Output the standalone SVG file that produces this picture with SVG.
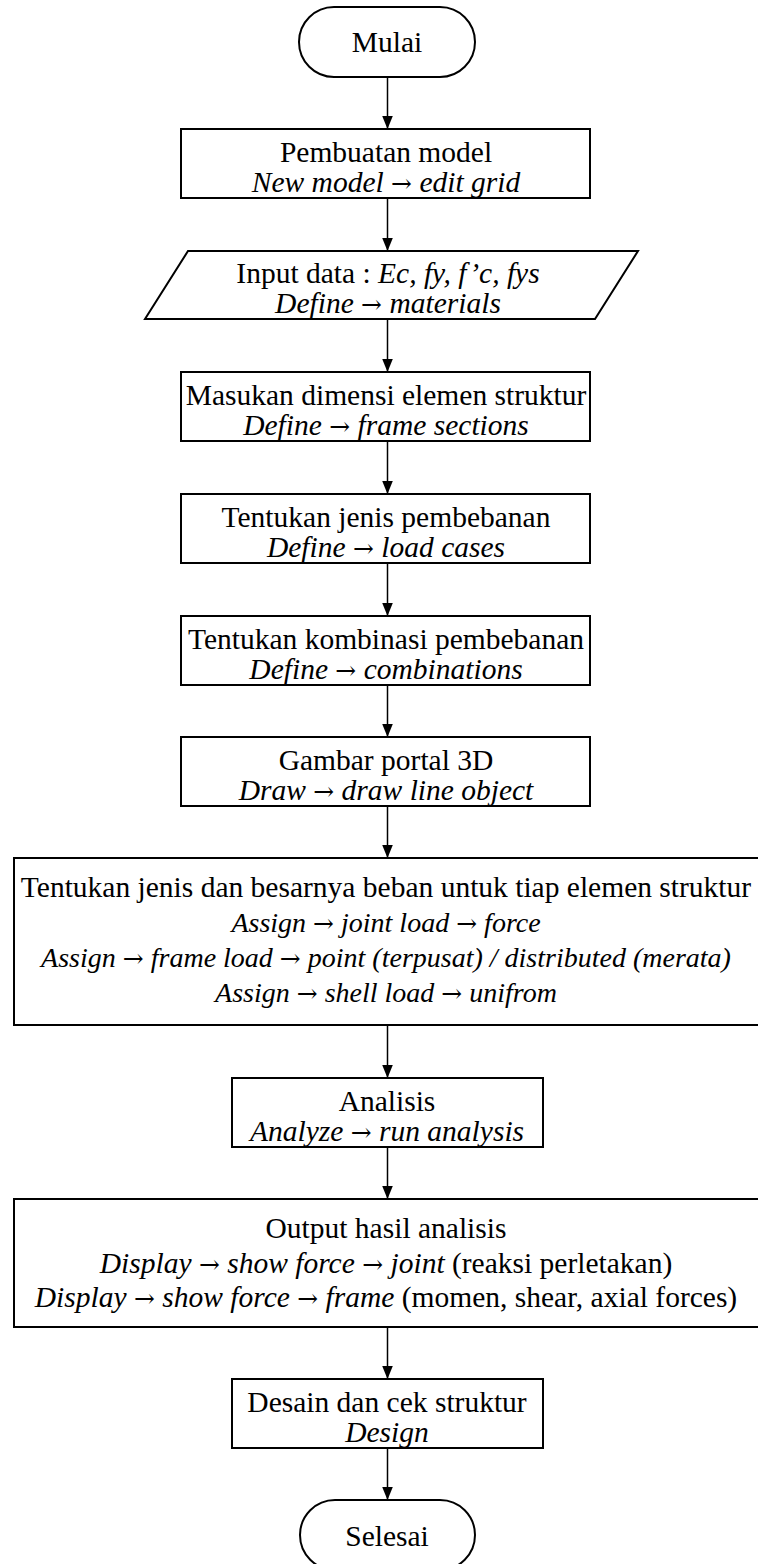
<svg xmlns="http://www.w3.org/2000/svg" width="758" height="1564" viewBox="0 0 758 1564">
  <style>
    .shape { fill: #ffffff; stroke: #000000; stroke-width: 2; }
    .wire { fill: none; stroke: #000000; stroke-width: 1.5; }
    text { font-family: "Liberation Serif", "Times New Roman", serif; font-size: 29.5px; fill: #000000; text-anchor: middle; }
    .it { font-style: italic; }
    .sm { font-size: 28px; }
    .ar { font-family: "DejaVu Serif", serif; font-style: normal; font-size: 25px; }
  </style>
  <defs>
    <marker id="arrow" markerUnits="userSpaceOnUse" markerWidth="13" markerHeight="13" refX="16" refY="6.5" orient="auto" viewBox="0 0 16 13">
      <path d="M0,0 L16,6.5 L0,13 z" fill="#000000"/>
    </marker>
  </defs>
  <rect width="758" height="1564" fill="#ffffff"/>

  <!-- connectors -->
  <g id="connectors">
    <line class="wire" x1="387.5" y1="77" x2="387.5" y2="129" marker-end="url(#arrow)"/>
    <line class="wire" x1="387.5" y1="198" x2="387.5" y2="251" marker-end="url(#arrow)"/>
    <line class="wire" x1="387.5" y1="319" x2="387.5" y2="372" marker-end="url(#arrow)"/>
    <line class="wire" x1="387.5" y1="441" x2="387.5" y2="494" marker-end="url(#arrow)"/>
    <line class="wire" x1="387.5" y1="563" x2="387.5" y2="616" marker-end="url(#arrow)"/>
    <line class="wire" x1="387.5" y1="685" x2="387.5" y2="737" marker-end="url(#arrow)"/>
    <line class="wire" x1="387.5" y1="806" x2="387.5" y2="858" marker-end="url(#arrow)"/>
    <line class="wire" x1="387.5" y1="1025" x2="387.5" y2="1078" marker-end="url(#arrow)"/>
    <line class="wire" x1="387.5" y1="1147" x2="387.5" y2="1199" marker-end="url(#arrow)"/>
    <line class="wire" x1="387.5" y1="1327" x2="387.5" y2="1379" marker-end="url(#arrow)"/>
    <line class="wire" x1="387.5" y1="1448" x2="387.5" y2="1500" marker-end="url(#arrow)"/>
  </g>

  <!-- start terminator -->
  <g id="mulai">
    <rect class="shape" x="299" y="7" width="176" height="70" rx="35" ry="35"/>
    <text x="387" y="52">Mulai</text>
  </g>

  <g id="pembuatan-model">
    <rect class="shape" x="181" y="129" width="409" height="69"/>
    <text x="386" y="162">Pembuatan model</text>
    <text x="386" y="192" class="it">New model <tspan class="ar">→</tspan> edit grid</text>
  </g>

  <g id="input-data">
    <polygon class="shape" points="188,251 638,251 595,319 145,319"/>
    <text x="388" y="283">Input data : <tspan class="it">Ec, fy, f’c, fys</tspan></text>
    <text x="388" y="313" class="it">Define <tspan class="ar">→</tspan> materials</text>
  </g>

  <g id="dimensi">
    <rect class="shape" x="181" y="372" width="409" height="69"/>
    <text x="386" y="405">Masukan dimensi elemen struktur</text>
    <text x="386" y="435" class="it">Define <tspan class="ar">→</tspan> frame sections</text>
  </g>

  <g id="jenis-pembebanan">
    <rect class="shape" x="181" y="494" width="409" height="69"/>
    <text x="386" y="527">Tentukan jenis pembebanan</text>
    <text x="386" y="557" class="it">Define <tspan class="ar">→</tspan> load cases</text>
  </g>

  <g id="kombinasi">
    <rect class="shape" x="181" y="616" width="409" height="69"/>
    <text x="386" y="649">Tentukan kombinasi pembebanan</text>
    <text x="386" y="679" class="it">Define <tspan class="ar">→</tspan> combinations</text>
  </g>

  <g id="portal-3d">
    <rect class="shape" x="181" y="737" width="409" height="69"/>
    <text x="386" y="770">Gambar portal 3D</text>
    <text x="386" y="800" class="it">Draw <tspan class="ar">→</tspan> draw line object</text>
  </g>

  <g id="beban">
    <rect class="shape" x="14" y="858" width="750" height="167"/>
    <text x="386" y="897">Tentukan jenis dan besarnya beban untuk tiap elemen struktur</text>
    <text x="386" y="932" class="it sm">Assign <tspan class="ar">→</tspan> joint load <tspan class="ar">→</tspan> force</text>
    <text x="386" y="967" class="it sm">Assign <tspan class="ar">→</tspan> frame load <tspan class="ar">→</tspan> point (terpusat) / distributed (merata)</text>
    <text x="386" y="1002" class="it sm">Assign <tspan class="ar">→</tspan> shell load <tspan class="ar">→</tspan> unifrom</text>
  </g>

  <g id="analisis">
    <rect class="shape" x="232" y="1078" width="311" height="69"/>
    <text x="387" y="1111">Analisis</text>
    <text x="387" y="1141" class="it">Analyze <tspan class="ar">→</tspan> run analysis</text>
  </g>

  <g id="output">
    <rect class="shape" x="14" y="1199" width="750" height="128"/>
    <text x="386" y="1238">Output hasil analisis</text>
    <text x="386" y="1273"><tspan class="it">Display <tspan class="ar">→</tspan> show force <tspan class="ar">→</tspan> joint</tspan> (reaksi perletakan)</text>
    <text x="386" y="1307"><tspan class="it">Display <tspan class="ar">→</tspan> show force <tspan class="ar">→</tspan> frame</tspan> (momen, shear, axial forces)</text>
  </g>

  <g id="desain">
    <rect class="shape" x="232" y="1379" width="311" height="69"/>
    <text x="387" y="1412">Desain dan cek struktur</text>
    <text x="387" y="1442" class="it">Design</text>
  </g>

  <!-- end terminator -->
  <g id="selesai">
    <rect class="shape" x="300" y="1500" width="175" height="70" rx="35" ry="35"/>
    <text x="387" y="1546">Selesai</text>
  </g>
</svg>
